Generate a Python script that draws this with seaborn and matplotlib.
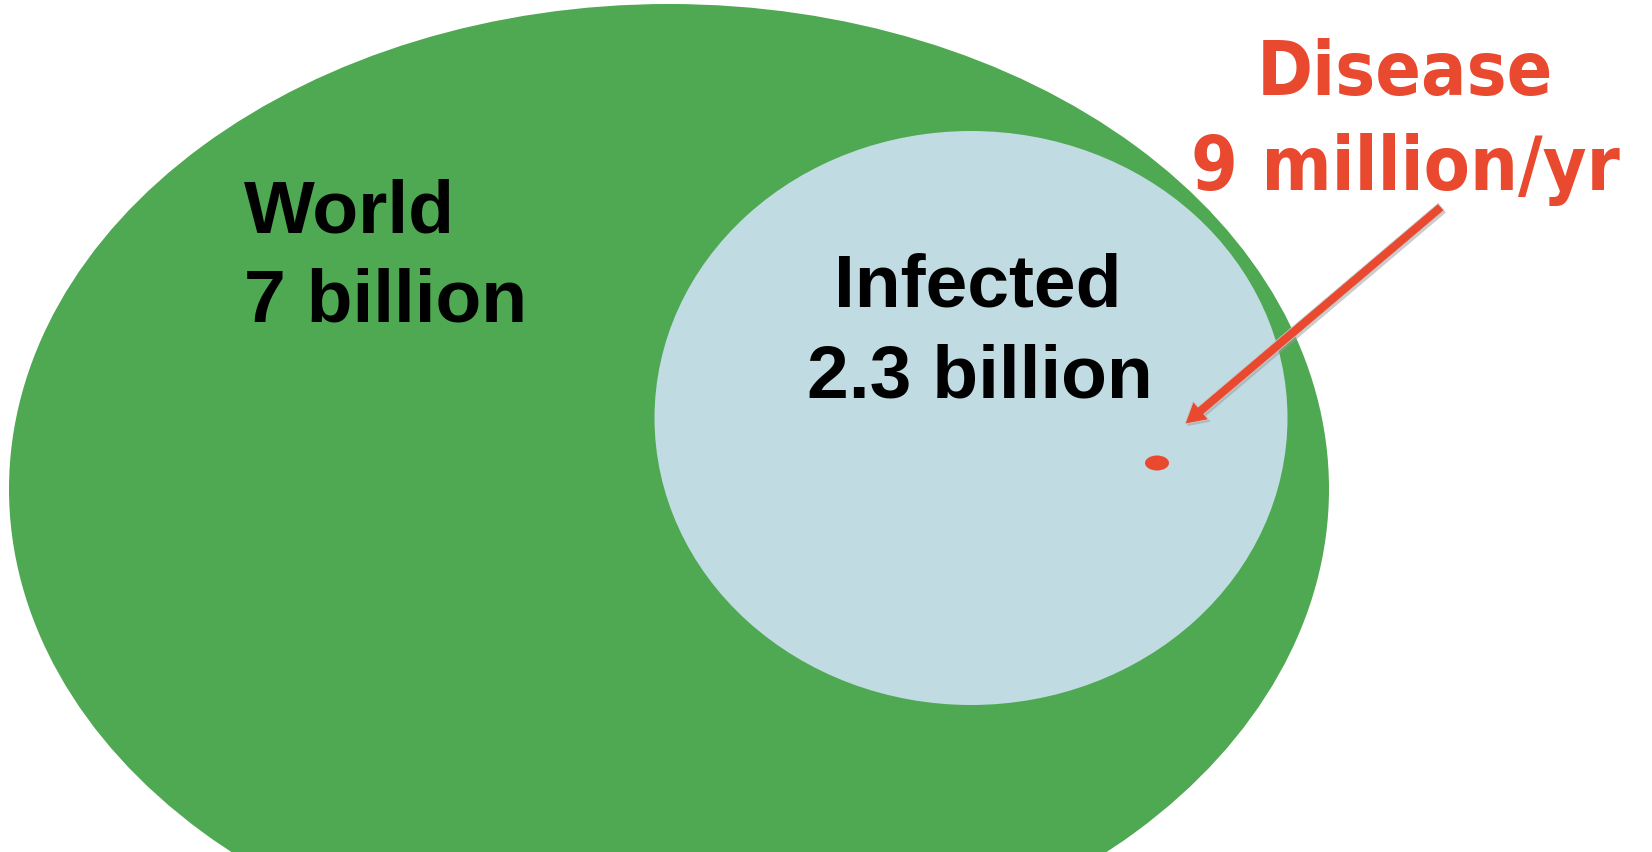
import matplotlib
matplotlib.use("Agg")
import matplotlib.pyplot as plt
from matplotlib.patches import Ellipse
import matplotlib.patheffects as pe
import seaborn as sns

# Population groups, from the whole world down to yearly disease cases
group_names = ["World", "Infected", "Disease"]
group_sizes = ["7 billion", "2.3 billion", "9 million/yr"]

sns.set_theme(style="white")
plt.rcParams["font.family"] = ["Liberation Sans", "DejaVu Sans"]

W, H = 1652, 853
fig = plt.figure(figsize=(W / 100, H / 100), dpi=100)
ax = fig.add_axes([0, 0, 1, 1])
ax.set_xlim(0, W)
ax.set_ylim(H, 0)
ax.set_axis_off()

green = "#4FA852"
pale_blue = "#C0DBE2"
red = "#E9492F"

# Nested sets drawn as ellipses (pixel layout)
ax.add_patch(Ellipse((669, 490), 1320, 970, facecolor=green, edgecolor="none", zorder=1))
ax.add_patch(Ellipse((971, 419), 633, 574, facecolor=pale_blue, edgecolor="none", zorder=2))
ax.add_patch(Ellipse((1157, 464), 24, 15, facecolor=red, edgecolor="none", zorder=3))

bold_black = dict(fontsize=54, fontweight="bold", color="black",
                  family=["Liberation Sans", "DejaVu Sans"], zorder=5)
ax.text(244, 232, group_names[0], ha="left", va="baseline", **bold_black)
ax.text(244, 321, group_sizes[0], ha="left", va="baseline", **bold_black)
ax.text(978, 306, group_names[1], ha="center", va="baseline", **bold_black)
ax.text(980, 398, group_sizes[1], ha="center", va="baseline", **bold_black)

bold_red = dict(fontsize=54, fontweight="bold", color=red, fontstretch="condensed",
                family=["DejaVu Sans"], zorder=5)
ax.text(1405, 95, group_names[2], ha="center", va="baseline", **bold_red)
ax.text(1405, 190, group_sizes[2], ha="center", va="baseline", **bold_red)

ax.annotate("", xy=(1185, 425), xytext=(1441, 208),
            arrowprops=dict(width=6.5, headwidth=17, headlength=15, facecolor=red,
                            edgecolor="#c9c9c9", linewidth=0.6, shrink=0,
                            path_effects=[pe.SimplePatchShadow(offset=(1.5, -1.5),
                                                               shadow_rgbFace="#9a9a9a",
                                                               alpha=0.5),
                                          pe.Normal()]),
            zorder=6)

fig.savefig("out.png", dpi=100)
